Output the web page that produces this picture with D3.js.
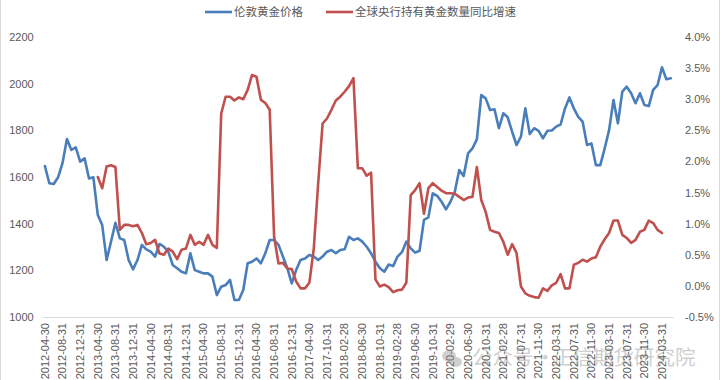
<!DOCTYPE html>
<html>
<head>
<meta charset="utf-8">
<script src="https://cdn.jsdelivr.net/npm/d3@7"></script>
<style>
  html, body { margin: 0; padding: 0; background: #fff; }
  svg { display: block; }
</style>
</head>
<body>
<svg id="chart" width="720" height="380"></svg>
<script>
const categories = [
  "2012-04-30","2012-05-31","2012-06-30","2012-07-31","2012-08-31","2012-09-30","2012-10-31","2012-11-30","2012-12-31",
  "2013-01-31","2013-02-28","2013-03-31","2013-04-30","2013-05-31","2013-06-30","2013-07-31","2013-08-31","2013-09-30","2013-10-31","2013-11-30","2013-12-31",
  "2014-01-31","2014-02-28","2014-03-31","2014-04-30","2014-05-31","2014-06-30","2014-07-31","2014-08-31","2014-09-30","2014-10-31","2014-11-30","2014-12-31",
  "2015-01-31","2015-02-28","2015-03-31","2015-04-30","2015-05-31","2015-06-30","2015-07-31","2015-08-31","2015-09-30","2015-10-31","2015-11-30","2015-12-31",
  "2016-01-31","2016-02-29","2016-03-31","2016-04-30","2016-05-31","2016-06-30","2016-07-31","2016-08-31","2016-09-30","2016-10-31","2016-11-30","2016-12-31",
  "2017-01-31","2017-02-28","2017-03-31","2017-04-30","2017-06-30","2017-08-31","2017-09-30","2017-10-31","2017-11-30","2017-12-31",
  "2018-01-31","2018-02-28","2018-03-31","2018-04-30","2018-05-31","2018-06-30","2018-07-31","2018-08-31","2018-09-30","2018-10-31","2018-11-30","2018-12-31",
  "2019-01-31","2019-02-28","2019-03-31","2019-04-30","2019-05-31","2019-06-30","2019-07-31","2019-08-31","2019-09-30","2019-10-31","2019-11-30","2019-12-31",
  "2020-01-31","2020-02-29","2020-03-31","2020-04-30","2020-05-31","2020-06-30","2020-07-31","2020-08-31","2020-09-30","2020-10-31","2020-11-30","2020-12-31",
  "2021-01-31","2021-02-28","2021-03-31","2021-04-30","2021-06-30","2021-07-31","2021-08-31","2021-09-30","2021-10-31","2021-11-30","2021-12-31",
  "2022-01-31","2022-02-28","2022-03-31","2022-04-30","2022-05-31","2022-06-30","2022-07-31","2022-08-31","2022-09-30","2022-10-31","2022-11-30","2022-12-31",
  "2023-01-31","2023-02-28","2023-03-31","2023-04-30","2023-05-31","2023-06-30","2023-07-31","2023-08-31","2023-09-30","2023-10-31","2023-11-30","2023-12-31",
  "2024-01-31","2024-02-29","2024-03-31","2024-04-30","2024-05-31"
];

const tickLabels = [
  "2012-04-30","2012-08-31","2012-12-31","2013-04-30","2013-08-31","2013-12-31",
  "2014-04-30","2014-08-31","2014-12-31","2015-04-30","2015-08-31","2015-12-31",
  "2016-04-30","2016-08-31","2016-12-31","2017-04-30","2017-10-31","2018-02-28",
  "2018-06-30","2018-10-31","2019-02-28","2019-06-30","2019-10-31","2020-02-29",
  "2020-06-30","2020-10-31","2021-02-28","2021-07-31","2021-11-30","2022-03-31",
  "2022-07-31","2022-11-30","2023-03-31","2023-07-31","2023-11-30","2024-03-31"
];

const seriesNames = ["伦敦黄金价格", "全球央行持有黄金数量同比增速"];

// London gold price (left axis)
const goldPrice = [
  1647,1573,1570,1599,1660,1763,1716,1727,1666,1680,1594,1599,
  1437,1394,1244,1323,1404,1337,1330,1244,1204,1244,1309,1290,
  1280,1259,1313,1301,1280,1223,1209,1194,1187,1273,1201,1194,
  1187,1187,1173,1094,1130,1137,1159,1073,1073,1116,1230,1237,
  1251,1230,1273,1330,1330,1309,1259,1209,1144,1201,1244,1251,
  1266,1259,1244,1259,1280,1287,1273,1287,1290,1344,1330,1337,
  1323,1301,1273,1237,1209,1194,1225,1218,1259,1278,1323,1294,
  1276,1284,1416,1427,1530,1519,1494,1461,1494,1537,1630,1604,
  1701,1723,1761,1951,1937,1887,1890,1809,1873,1856,1794,1737,
  1773,1894,1784,1809,1798,1766,1798,1799,1816,1825,1894,1941,
  1894,1858,1837,1737,1744,1651,1651,1723,1801,1930,1830,1966,
  1987,1959,1916,1959,1909,1904,1973,1994,2070,2019,2023
];

// Global central bank gold holdings YoY growth, % (right axis)
const cbGrowth = [
  null,null,null,null,null,null,null,null,null,null,null,null,
  1.75,1.57,1.92,1.94,1.91,0.90,0.98,0.98,0.96,0.98,0.85,0.67,
  0.69,0.74,0.52,0.50,0.60,0.55,0.43,0.58,0.60,0.82,0.66,0.71,
  0.66,0.82,0.66,0.61,2.77,3.04,3.04,2.98,3.03,3.00,3.15,3.39,
  3.36,2.99,2.94,2.83,0.79,0.36,0.37,0.28,0.27,0.07,-0.04,-0.04,
  0.05,0.60,1.65,2.61,2.69,2.83,2.98,3.04,3.12,3.21,3.34,1.89,
  1.89,1.77,1.82,0.10,-0.01,0.02,-0.02,-0.10,-0.07,-0.06,0.05,1.46,
  1.54,1.65,1.16,1.57,1.65,1.59,1.53,1.49,1.49,1.48,1.43,1.38,
  1.42,1.43,1.91,1.38,1.19,0.90,0.87,0.85,0.71,0.50,0.67,0.53,
  -0.01,-0.12,-0.16,-0.18,-0.19,-0.04,-0.08,0.01,0.05,0.19,-0.04,-0.04,
  0.34,0.37,0.42,0.39,0.44,0.46,0.63,0.75,0.85,1.05,1.05,0.82,
  0.77,0.69,0.74,0.87,0.90,1.05,1.01,0.90,0.85,null,null
];

const leftTicks = [1000,1200,1400,1600,1800,2000,2200];
const rightTicks = [-0.5,0,0.5,1.0,1.5,2.0,2.5,3.0,3.5,4.0];

const colors = ["#4a7ebb", "#c0504d"];
const textColor = "#595959";
const fontStack = "'Liberation Sans', Arial, 'Noto Sans CJK SC', sans-serif";

const svg = d3.select("#chart");
const plot = { left: 42.7, right: 673, top: 37, bottom: 317 };

const x = d3.scaleBand().domain(categories).range([plot.left, plot.right]).padding(0);
const cx = d => x(d) + x.bandwidth() / 2;
const yL = d3.scaleLinear().domain([1000, 2200]).range([plot.bottom, plot.top]);
const yR = d3.scaleLinear().domain([-0.5, 4.0]).range([plot.bottom, plot.top]);

// chart border (left/right edges)
svg.append("line").attr("x1", 0.5).attr("x2", 0.5).attr("y1", 0).attr("y2", 380)
  .attr("stroke", "#d9d9d9");
svg.append("line").attr("x1", 719.5).attr("x2", 719.5).attr("y1", 0).attr("y2", 380)
  .attr("stroke", "#d9d9d9");

// Left axis
const gL = svg.append("g").attr("transform", `translate(${plot.left},0)`)
  .call(d3.axisLeft(yL).tickValues(leftTicks).tickSize(0).tickPadding(9).tickFormat(d3.format("d")));
gL.select(".domain").remove();
gL.selectAll("text").attr("fill", textColor).style("font-family", fontStack).style("font-size", "11px");

// Right axis
const gR = svg.append("g").attr("transform", `translate(${plot.right},0)`)
  .call(d3.axisRight(yR).tickValues(rightTicks).tickSize(0).tickPadding(12).tickFormat(v => v.toFixed(1) + "%"));
gR.select(".domain").remove();
gR.selectAll("text").attr("fill", textColor).style("font-family", fontStack).style("font-size", "11px");

// Bottom axis
const gB = svg.append("g").attr("transform", `translate(0,${plot.bottom})`)
  .call(d3.axisBottom(x).tickValues(tickLabels).tickSize(0));
gB.select(".domain").attr("stroke", "#d9d9d9").attr("stroke-width", 1);
gB.selectAll(".tick text")
  .attr("transform", "rotate(-90)")
  .attr("text-anchor", "end")
  .attr("x", -6).attr("y", 0).attr("dy", "0.35em")
  .attr("fill", textColor)
  .style("font-family", fontStack).style("font-size", "11px");

// Lines
const lineL = d3.line().defined(d => d.v != null).x(d => cx(d.c)).y(d => yL(d.v));
const lineR = d3.line().defined(d => d.v != null).x(d => cx(d.c)).y(d => yR(d.v));

svg.append("path")
  .datum(categories.map((c, i) => ({ c, v: goldPrice[i] })))
  .attr("d", lineL).attr("fill", "none").attr("stroke", colors[0])
  .attr("stroke-width", 2.6).attr("stroke-linejoin", "round").attr("stroke-linecap", "round");

svg.append("path")
  .datum(categories.map((c, i) => ({ c, v: cbGrowth[i] })))
  .attr("d", lineR).attr("fill", "none").attr("stroke", colors[1])
  .attr("stroke-width", 2.6).attr("stroke-linejoin", "round").attr("stroke-linecap", "round");

// Legend
const legendPos = [205, 326];
seriesNames.forEach((name, i) => {
  const g = svg.append("g").attr("transform", `translate(${legendPos[i]},12)`);
  g.append("line").attr("x1", 0).attr("x2", 27).attr("y1", 0).attr("y2", 0)
    .attr("stroke", colors[i]).attr("stroke-width", 2.6);
  g.append("text").attr("x", 29).attr("y", 0).attr("dy", "0.35em")
    .attr("fill", textColor)
    .style("font-family", "'Noto Sans CJK SC', sans-serif").style("font-size", "11.5px")
    .text(name);
});

// Watermark
const wm = svg.append("g").attr("opacity", 0.4).attr("fill", "#8a8a8a")
  .style("font-family", "'Noto Sans CJK SC', sans-serif").style("font-size", "20.5px");
wm.append("ellipse").attr("cx", 449).attr("cy", 356).attr("rx", 7).attr("ry", 6);
wm.append("ellipse").attr("cx", 456).attr("cy", 362).attr("rx", 6).attr("ry", 5);
wm.append("text").attr("x", 472).attr("y", 358).attr("dy", "0.35em").text("公众号");
wm.append("text").attr("x", 535).attr("y", 358).attr("dy", "0.35em").text("·");
wm.append("text").attr("x", 552).attr("y", 358).attr("dy", "0.35em").text("正信期货研究院");
</script>
</body>
</html>
